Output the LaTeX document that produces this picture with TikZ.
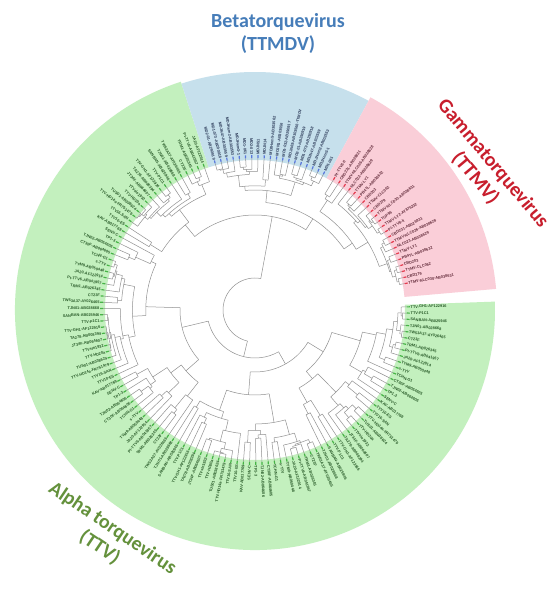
\documentclass[tikz,border=0pt]{standalone}
\usepackage{fontspec}
\setmainfont{Liberation Sans}
\newfontfamily\titlefont{Carlito}
\definecolor{gfill}{RGB}{195,240,190}
\definecolor{bfill}{RGB}{198,224,236}
\definecolor{pfill}{RGB}{250,206,216}
\definecolor{gtext}{RGB}{40,90,40}
\definecolor{btext}{RGB}{45,60,90}
\definecolor{ptext}{RGB}{100,45,60}
\definecolor{gmark}{RGB}{70,180,70}
\definecolor{bmark}{RGB}{90,120,220}
\definecolor{pmark}{RGB}{230,60,80}
\definecolor{branch}{RGB}{145,145,145}
\definecolor{btitle}{RGB}{70,125,185}
\definecolor{ptitle}{RGB}{200,30,45}
\definecolor{gtitle}{RGB}{100,145,60}
\tikzset{
  br/.style={draw=branch, line width=0.5pt},
  leaflab/.style={inner sep=0pt, font=\fontsize{3.9}{4.4}\selectfont\bfseries},
  titlelab/.style={font=\titlefont\bfseries\fontsize{20}{23}\selectfont, align=center, inner sep=0pt},
  declare function={A(\x)=10+2.33*\x+2*(\x>21.5)+2*(\x>40.5);},
}
\def\tipr{152}
\newcommand\gname[1]{\ifcase#1 TA278-AB008394\or TRM1-AB026345\or TJN02-AB064606\or TUS01-AB038624\or SANBAN-AB025946\or TYM9-AB050448\or KAV-AB017769\or JT34F-AB064607\or CT23F\or CT30F-AB064605\or TTV-HD14a-FR751479\or TTV-P1C1\or JA20-AF122914\or SENV-C\or TTVsle1932\or TW53A37-AY026465\or TCHN-G1\or TTV16-SAN\or TTV-GH1-AF122916\or Pt-TTV6-AB041957\or TP1-3\or TTV-HD20a\or TJN01-AB028668\or s-TTV\or TTV10-ES\fi}
\newcommand\bname[1]{\ifcase#1 MD1-073-AB290918\or MD2-013\or MD1-032-AB290917\or MDJHem2-AB303553\or MDJN14\or MD2-01-AB290919\or MD1-061\or MDJN1-AB303556\or MDJN47-AB303559\or MDJN51\or MDJN69-AB303566-TTMDV\or MDJHem3-1\or MDJHem5-AB303562\fi}
\newcommand\pname[1]{\ifcase#1 TTMV-NLC030-AB038631\or TTMV-LY1\or TTMV-LY2-AY876232\or CBD203\or CBD231-AB026931\or CBD279\or NLC023-AB038629\or TGP96\or PB4TL-AB038632\or Pt-TTV8-II\or TTMV-CLC062\or TTMV-NLC026-AB038628\fi}
\newcommand\myleaf{%
  \draw[br] (\myAm:\myRp pt) -- (\myAm:\tipr pt);
  \ifnum\myLo<22 \def\myLc{ptext}\def\myMc{pmark}\pgfmathtruncatemacro\myNi{mod(\myLo*5,12)}\def\myNm{\pname{\myNi}}%
  \else\ifnum\myLo<41 \def\myLc{btext}\def\myMc{bmark}\pgfmathtruncatemacro\myNi{mod(\myLo*5,13)}\def\myNm{\bname{\myNi}}%
  \else \def\myLc{gtext}\def\myMc{gmark}\pgfmathtruncatemacro\myNi{mod(\myLo*7,25)}\def\myNm{\gname{\myNi}}\fi\fi
  \pgfmathsetmacro\myRk{\tipr+3}%
  \pgfmathsetmacro\myRl{\tipr+3.5}%
  \draw[draw=\myMc, line width=1.2pt] (\myAm:\tipr pt) -- (\myAm:\myRk pt);
  \pgfmathsetmacro\myCs{cos(\myAm)}%
  \ifdim\myCs pt>0pt \let\myRot\myAm\def\myAnc{west}\else\pgfmathsetmacro\myRot{\myAm+180}\def\myAnc{east}\fi
  \node[leaflab, text=\myLc, rotate=\myRot, anchor=\myAnc] (L\myLo) at (\myAm:\myRl pt) {\myNm};
}
\newcommand\clade[4]{%
  \begingroup
  \pgfmathtruncatemacro\myLo{#1}%
  \pgfmathtruncatemacro\myHi{#2}%
  \pgfmathsetmacro\myRp{#4}%
  \pgfmathsetmacro\myRr{#3}%
  \pgfmathsetmacro\myAm{(A(\myLo)+A(\myHi))/2}%
  \ifnum\myLo=\myHi\relax
    \myleaf
  \else
    \draw[br] (\myAm:\myRp pt) -- (\myAm:\myRr pt);
    \pgfmathtruncatemacro\myK{\myLo+floor(rnd*(\myHi-\myLo))}%
    \pgfmathtruncatemacro\myKK{\myK+1}%
    \pgfmathsetmacro\myAa{(A(\myLo)+A(\myK))/2}%
    \pgfmathsetmacro\myAb{(A(\myKK)+A(\myHi))/2}%
    \draw[br] (\myAa:\myRr pt) arc[start angle=\myAa, end angle=\myAb, radius=\myRr pt];
    \pgfmathsetmacro\myRa{\tipr-(\tipr-\myRr)*(0.55+0.35*rnd)}%
    \pgfmathsetmacro\myRb{\tipr-(\tipr-\myRr)*(0.55+0.35*rnd)}%
    \edef\myNext{\noexpand\clade{\myLo}{\myK}{\myRa}{\myRr}\noexpand\clade{\myKK}{\myHi}{\myRb}{\myRr}}%
    \myNext
  \fi
  \endgroup}
\newcommand\joint[5]{%
  \pgfmathsetmacro\myAm{(A(#1)+A(#3))/2}%
  \pgfmathsetmacro\myAa{(A(#1)+A(#2))/2}%
  \pgfmathsetmacro\myAb{(A(#2+1)+A(#3))/2}%
  \draw[br] (\myAm:#5 pt) -- (\myAm:#4 pt);
  \draw[br] (\myAa:#4 pt) arc[start angle=\myAa, end angle=\myAb, radius=#4 pt];
}
\begin{document}
\begin{tikzpicture}[x=1pt,y=1pt]
\useasboundingbox (0,0) rectangle (559,611);
\fill[white] (0,0) rectangle (559,611);
% titles
\node[titlelab, text=btitle] (beta) at (278,577) {Betatorquevirus\\(TTMDV)};
\node[titlelab, text=ptitle, rotate=-50] (gamma) at (484,440) {Gammatorquevirus\\(TTMV)};
\node[titlelab, text=gtitle, rotate=-34] (alpha) at (106,73) {Alpha torquevirus\\(TTV)};
\begin{scope}[shift={(255,301)}]
  % coloured sectors
  \fill[gfill] (108:150pt) -- (108:240pt) arc[start angle=108, end angle=362, radius=240pt] -- (362:150pt) arc[start angle=362, end angle=108, radius=150pt] -- cycle;
  \fill[bfill] (61.5:150pt) -- (61.5:238pt) arc[start angle=61.5, end angle=108, radius=238pt] -- (108:150pt) arc[start angle=108, end angle=61.5, radius=150pt] -- cycle;
  \fill[pfill] (5:150pt) -- (5:242pt) arc[start angle=5, end angle=61.5, radius=242pt] -- (61.5:150pt) arc[start angle=61.5, end angle=5, radius=150pt] -- cycle;
  \pgfmathsetseed{7}
  % tree
  \joint{0}{58}{149}{32}{32}
  \joint{0}{40}{58}{95}{32}
  \joint{0}{21}{40}{108}{95}
  \clade{0}{21}{118}{108}
  \clade{22}{40}{120}{108}
  \clade{41}{58}{110}{95}
  \joint{59}{95}{149}{48}{32}
  \clade{59}{95}{75}{48}
  \joint{96}{120}{149}{62}{48}
  \clade{96}{120}{85}{62}
  \clade{121}{149}{80}{62}
\end{scope}
\end{tikzpicture}
\end{document}
